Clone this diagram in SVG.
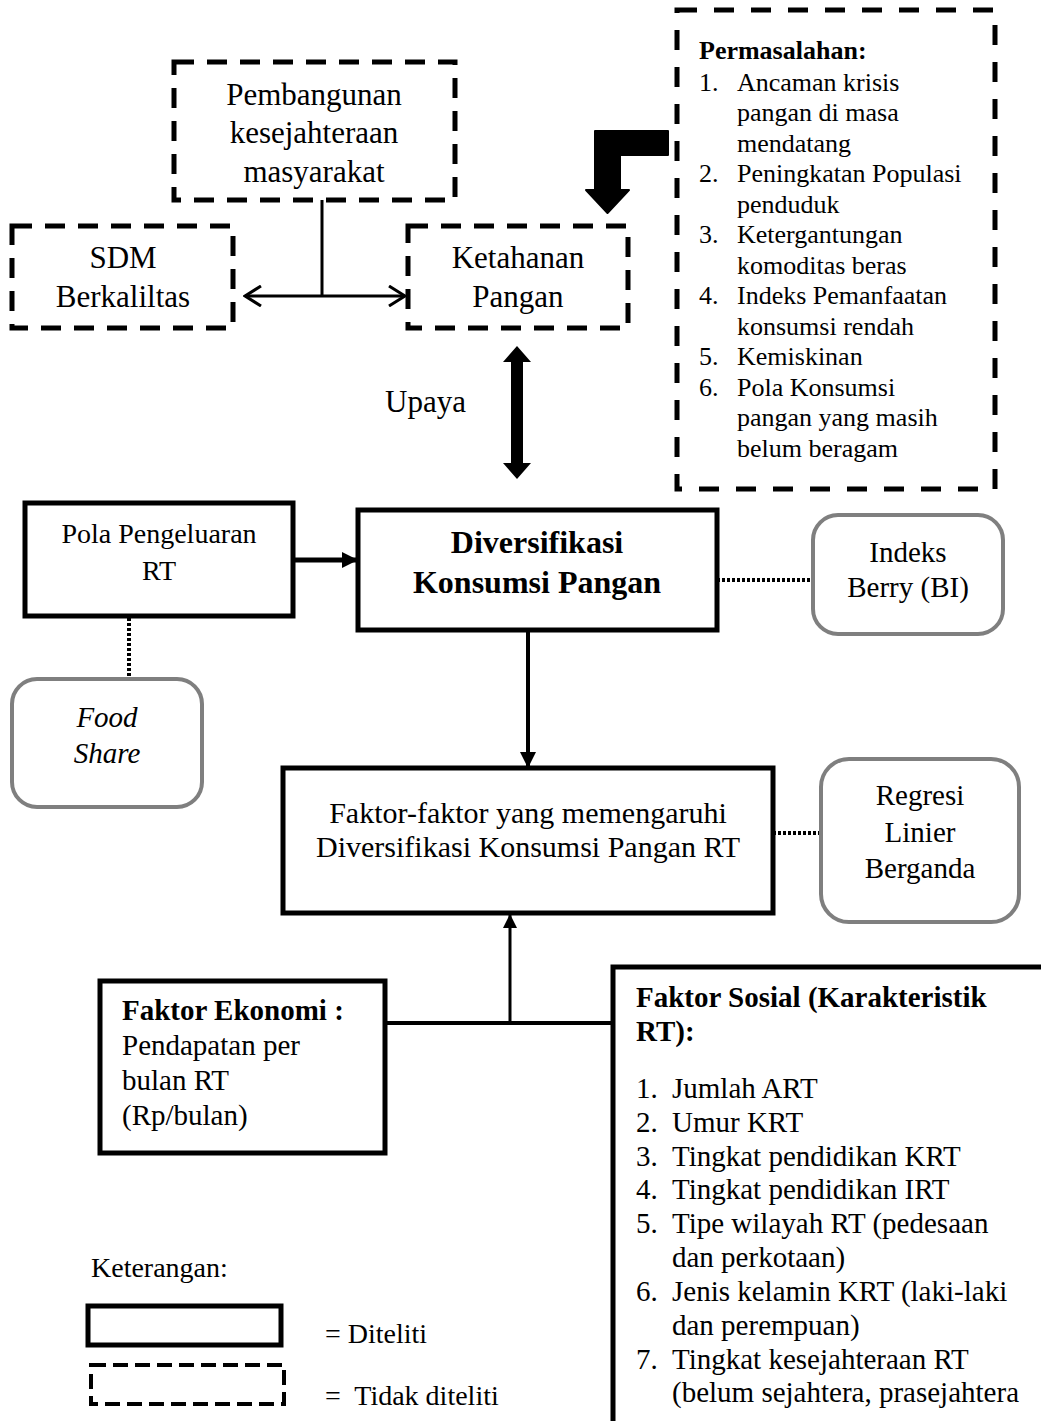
<svg xmlns="http://www.w3.org/2000/svg" width="1041" height="1421" viewBox="0 0 1041 1421">
<style>
text{font-family:"Liberation Serif","Times New Roman",serif;fill:#000}
.c{text-anchor:middle}
.b{font-weight:bold}
.dash{fill:#fff;stroke:#000;stroke-width:5;stroke-dasharray:20 13}
.solid{fill:#fff;stroke:#000;stroke-width:5}
.gray{fill:#fff;stroke:#7f7f7f;stroke-width:4}
.dot{stroke:#000;stroke-width:4;stroke-dasharray:3 2;fill:none}
.ln{stroke:#000;fill:none}
</style>
<defs>
<marker id="chev" viewBox="0 0 20 22" refX="18" refY="11" markerWidth="20" markerHeight="22" markerUnits="userSpaceOnUse" orient="auto-start-reverse"><path d="M2,1 L18,11 L2,21" fill="none" stroke="#000" stroke-width="3"/></marker>
<marker id="tri" viewBox="0 0 16 16" refX="16" refY="8" markerWidth="16" markerHeight="16" markerUnits="userSpaceOnUse" orient="auto"><path d="M0,0 L16,8 L0,16 Z" fill="#000"/></marker>
<marker id="triS" viewBox="0 0 14 14" refX="14" refY="7" markerWidth="14" markerHeight="14" markerUnits="userSpaceOnUse" orient="auto"><path d="M0,0 L14,7 L0,14 Z" fill="#000"/></marker>
</defs>
<rect width="1041" height="1421" fill="#fff"/>

<g id="connectors">
<line class="ln" x1="322" y1="200" x2="322" y2="296" stroke-width="3"/>
<line class="ln" x1="245" y1="296" x2="405" y2="296" stroke-width="3" marker-start="url(#chev)" marker-end="url(#chev)"/>
<path d="M668,131 L595,131 L595,190 L586,190 L607.5,213 L629,190 L620,190 L620,155 L668,155 Z" fill="#000" stroke="#000" stroke-width="2" stroke-linejoin="round"/>
<path d="M517,346 L531,362 L523,362 L523,463 L531,463 L517,479 L503,463 L511,463 L511,362 L503,362 Z" fill="#000"/>
<text x="385" y="412" font-size="31">Upaya</text>
<line class="ln" x1="293" y1="560" x2="358" y2="560" stroke-width="5" marker-end="url(#tri)"/>
<line class="ln" x1="528" y1="632" x2="528" y2="768" stroke-width="4" marker-end="url(#tri)"/>
<line class="ln" x1="510" y1="1023" x2="510" y2="914" stroke-width="3" marker-end="url(#triS)"/>
<line class="ln" x1="385" y1="1023" x2="613" y2="1023" stroke-width="4"/>
<line class="dot" x1="717" y1="580" x2="813" y2="580"/>
<line class="dot" x1="129" y1="618" x2="129" y2="679"/>
<line class="dot" x1="773" y1="833" x2="821" y2="833"/>
</g>

<g id="pembangunan">
<rect class="dash" x="174" y="62" width="281" height="138"/>
<text class="c" x="314" y="105" font-size="31">Pembangunan</text>
<text class="c" x="314" y="143" font-size="31">kesejahteraan</text>
<text class="c" x="314" y="182" font-size="31">masyarakat</text>
</g>

<g id="sdm">
<rect class="dash" x="12" y="226" width="221" height="102"/>
<text class="c" x="123" y="268" font-size="31">SDM</text>
<text class="c" x="123" y="307" font-size="31">Berkaliltas</text>
</g>

<g id="ketahanan">
<rect class="dash" x="408" y="226" width="220" height="102"/>
<text class="c" x="518" y="268" font-size="31">Ketahanan</text>
<text class="c" x="518" y="307" font-size="31">Pangan</text>
</g>

<g id="permasalahan">
<rect class="dash" x="677" y="10" width="318" height="479" style="stroke-dasharray:20 17"/>
<g font-size="26">
<text class="b" x="699" y="59">Permasalahan:</text>
<text x="699" y="90.5">1.</text><text x="737" y="90.5">Ancaman krisis</text>
<text x="737" y="121">pangan di masa</text>
<text x="737" y="151.5">mendatang</text>
<text x="699" y="182">2.</text><text x="737" y="182">Peningkatan Populasi</text>
<text x="737" y="212.5">penduduk</text>
<text x="699" y="243">3.</text><text x="737" y="243">Ketergantungan</text>
<text x="737" y="273.5">komoditas beras</text>
<text x="699" y="304">4.</text><text x="737" y="304">Indeks Pemanfaatan</text>
<text x="737" y="334.5">konsumsi rendah</text>
<text x="699" y="365">5.</text><text x="737" y="365">Kemiskinan</text>
<text x="699" y="395.5">6.</text><text x="737" y="395.5">Pola Konsumsi</text>
<text x="737" y="426">pangan yang masih</text>
<text x="737" y="456.5">belum beragam</text>
</g>
</g>

<g id="pola">
<rect class="solid" x="25" y="503" width="268" height="113"/>
<text class="c" x="159" y="543" font-size="28">Pola Pengeluaran</text>
<text class="c" x="159" y="580" font-size="28">RT</text>
</g>

<g id="diversifikasi">
<rect class="solid" x="358" y="510" width="359" height="120"/>
<text class="c b" x="537" y="553" font-size="32">Diversifikasi</text>
<text class="c b" x="537" y="593" font-size="32">Konsumsi Pangan</text>
</g>

<g id="indeks">
<rect class="gray" x="813" y="515" width="190" height="119" rx="25"/>
<text class="c" x="908" y="562" font-size="29">Indeks</text>
<text class="c" x="908" y="597" font-size="29">Berry (BI)</text>
</g>

<g id="foodshare">
<rect class="gray" x="12" y="679" width="190" height="128" rx="25"/>
<text class="c" x="107" y="727" font-size="29" font-style="italic">Food</text>
<text class="c" x="107" y="763" font-size="29" font-style="italic">Share</text>
</g>

<g id="faktor">
<rect class="solid" x="283" y="768" width="490" height="145"/>
<text class="c" x="528" y="823" font-size="30">Faktor-faktor yang memengaruhi</text>
<text class="c" x="528" y="857" font-size="30">Diversifikasi Konsumsi Pangan RT</text>
</g>

<g id="regresi">
<rect class="gray" x="821" y="759" width="198" height="163" rx="28"/>
<text class="c" x="920" y="805" font-size="29">Regresi</text>
<text class="c" x="920" y="842" font-size="29">Linier</text>
<text class="c" x="920" y="878" font-size="29">Berganda</text>
</g>

<g id="ekonomi">
<rect class="solid" x="100" y="981" width="285" height="172"/>
<g font-size="29">
<text class="b" x="122" y="1020">Faktor Ekonomi :</text>
<text x="122" y="1055">Pendapatan per</text>
<text x="122" y="1090">bulan RT</text>
<text x="122" y="1125">(Rp/bulan)</text>
</g>
</g>

<g id="sosial">
<rect class="solid" x="613" y="967" width="500" height="500"/>
<g font-size="29">
<text class="b" x="636" y="1007">Faktor Sosial (Karakteristik</text>
<text class="b" x="636" y="1041">RT):</text>
<text x="636" y="1098">1.</text><text x="672" y="1098">Jumlah ART</text>
<text x="636" y="1132">2.</text><text x="672" y="1132">Umur KRT</text>
<text x="636" y="1166">3.</text><text x="672" y="1166">Tingkat pendidikan KRT</text>
<text x="636" y="1199">4.</text><text x="672" y="1199">Tingkat pendidikan IRT</text>
<text x="636" y="1233">5.</text><text x="672" y="1233">Tipe wilayah RT (pedesaan</text>
<text x="672" y="1267">dan perkotaan)</text>
<text x="636" y="1301">6.</text><text x="672" y="1301">Jenis kelamin KRT (laki-laki</text>
<text x="672" y="1335">dan perempuan)</text>
<text x="636" y="1369">7.</text><text x="672" y="1369">Tingkat kesejahteraan RT</text>
<text x="672" y="1402">(belum sejahtera, prasejahtera</text>
</g>
</g>

<g id="legend">
<text x="91" y="1277" font-size="28">Keterangan:</text>
<rect class="solid" x="88" y="1306" width="193" height="39"/>
<text x="325" y="1343" font-size="28">= Diteliti</text>
<rect x="91" y="1365" width="193" height="39" fill="#fff" stroke="#000" stroke-width="4" stroke-dasharray="15 7"/>
<text x="325" y="1405" font-size="28" style="white-space:pre">=  Tidak diteliti</text>
</g>
</svg>
